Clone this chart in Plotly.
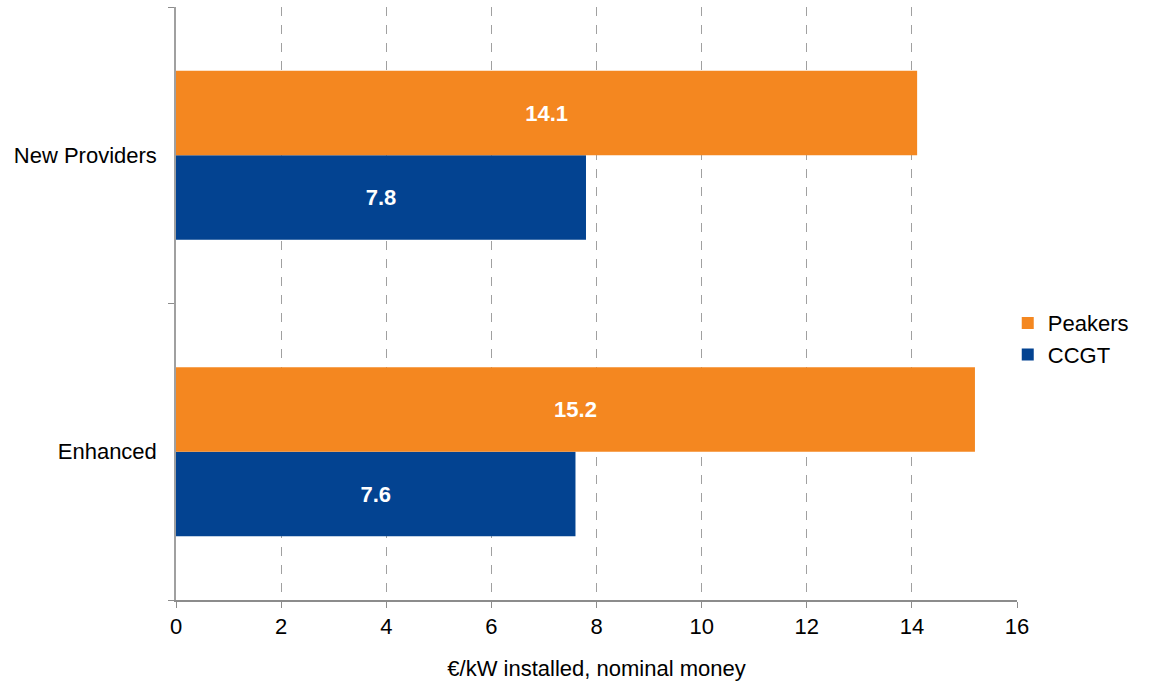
import plotly.graph_objects as go

categories = ["Enhanced", "New Providers"]
peakers = [15.2, 14.1]
ccgt = [7.6, 7.8]
x_ticks = [0, 2, 4, 6, 8, 10, 12, 14, 16]

ORANGE = "rgb(244,135,32)"
BLUE = "rgb(3,67,145)"
FONT = "Liberation Sans, Arial, sans-serif"
FS = 22

fig = go.Figure()
fig.add_trace(go.Bar(
    y=categories, x=ccgt, name="CCGT", orientation="h",
    marker=dict(color=BLUE, line=dict(width=0)),
    text=[f"{v:.1f}" for v in ccgt], textposition="inside",
    insidetextanchor="middle",
    textfont=dict(family=FONT, size=FS, color="white", weight="bold"),
))
fig.add_trace(go.Bar(
    y=categories, x=peakers, name="Peakers", orientation="h",
    marker=dict(color=ORANGE, line=dict(width=0)),
    text=[f"{v:.1f}" for v in peakers], textposition="inside",
    insidetextanchor="middle",
    textfont=dict(family=FONT, size=FS, color="white", weight="bold"),
))

fig.update_layout(
    width=1163, height=684,
    margin=dict(l=176, r=146, t=7, b=84),
    paper_bgcolor="white", plot_bgcolor="white",
    barmode="group", bargap=0.43, bargroupgap=0,
    font=dict(family=FONT, size=FS, color="black"),
    showlegend=True,
    legend=dict(
        traceorder="reversed", x=0.989, xanchor="left", y=0.44, yanchor="middle",
        font=dict(family=FONT, size=FS, color="black"),
        itemwidth=30, tracegroupgap=0, bgcolor="rgba(0,0,0,0)",
    ),
    uniformtext=dict(minsize=FS, mode="show"),
)

fig.update_xaxes(
    range=[0, 16], tickvals=x_ticks, ticktext=[str(t) for t in x_ticks],
    showgrid=True, gridcolor="rgb(160,160,160)", griddash="dash", gridwidth=1,
    zeroline=False,
    showline=True, linecolor="rgb(140,140,140)", linewidth=1.5,
    ticks="outside", ticklen=6, tickcolor="rgb(140,140,140)",
    tickfont=dict(family=FONT, size=FS, color="black"),
    title=dict(text="€/kW installed, nominal money", standoff=22,
               font=dict(family=FONT, size=FS, color="black")),
)
fig.update_yaxes(
    type="category", categoryorder="array", categoryarray=categories,
    tickson="boundaries", ticks="outside", ticklen=6, tickcolor="rgb(140,140,140)",
    showgrid=False, zeroline=False,
    showline=True, linecolor="rgb(160,160,160)", linewidth=1.5,
    tickfont=dict(family=FONT, size=FS, color="black"),
    ticklabelstandoff=13,
)

fig.write_html("out.html")
